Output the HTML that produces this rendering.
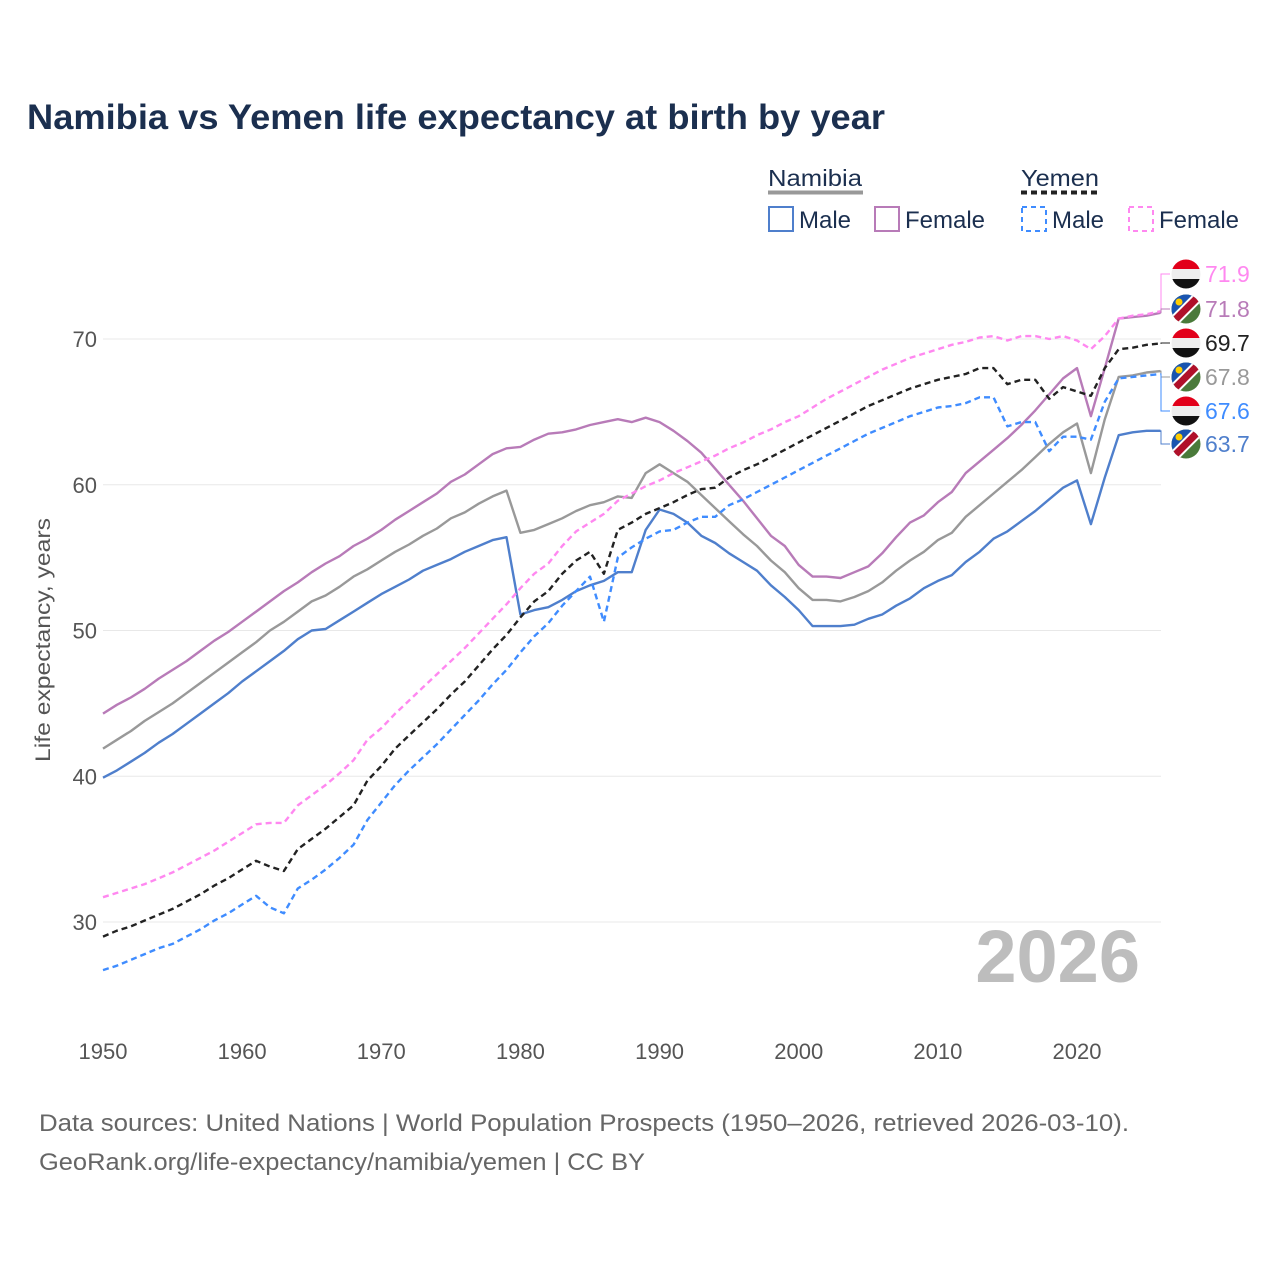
<!DOCTYPE html>
<html><head><meta charset="utf-8">
<style>
body{margin:0;background:#fff;}
svg text{font-family:"Liberation Sans",sans-serif;}
</style></head>
<body>
<svg id="chart" width="1280" height="1280" viewBox="0 0 1280 1280" xmlns="http://www.w3.org/2000/svg">
<rect width="1280" height="1280" fill="#fff"/>
<text x="27" y="129" font-size="35" font-weight="bold" fill="#1b2f4f" textLength="858" lengthAdjust="spacingAndGlyphs">Namibia vs Yemen life expectancy at birth by year</text>
<g id="legend">
 <text x="768" y="186" font-size="23" fill="#1b2f4f" textLength="94" lengthAdjust="spacingAndGlyphs">Namibia</text>
 <line x1="768" y1="192.5" x2="863" y2="192.5" stroke="#999" stroke-width="4"/>
 <text x="1021" y="186" font-size="23" fill="#1b2f4f" textLength="78" lengthAdjust="spacingAndGlyphs">Yemen</text>
 <line x1="1021" y1="192.5" x2="1098" y2="192.5" stroke="#222" stroke-width="4" stroke-dasharray="6,4"/>
 <g><rect x="769" y="207" width="24" height="24" fill="none" stroke="#4f7fcc" stroke-width="2"/><text x="799" y="228" font-size="24" fill="#1b2f4f">Male</text></g>
 <g><rect x="875" y="207" width="24" height="24" fill="none" stroke="#b87bb8" stroke-width="2"/><text x="905" y="228" font-size="24" fill="#1b2f4f">Female</text></g>
 <g><rect x="1022" y="207" width="24" height="24" fill="none" stroke="#3f8cff" stroke-width="2" stroke-dasharray="5,4"/><text x="1052" y="228" font-size="24" fill="#1b2f4f">Male</text></g>
 <g><rect x="1129" y="207" width="24" height="24" fill="none" stroke="#ff88f0" stroke-width="2" stroke-dasharray="5,4"/><text x="1159" y="228" font-size="24" fill="#1b2f4f">Female</text></g>
</g>
<text transform="translate(50,640) rotate(-90)" text-anchor="middle" font-size="21" fill="#555" textLength="244" lengthAdjust="spacingAndGlyphs">Life expectancy, years</text>
<text x="1140" y="982" text-anchor="end" font-size="74" font-weight="bold" fill="#bdbdbd">2026</text>
<g id="grid"></g>
<g id="series"></g>
<g id="labels"></g>
<text x="39" y="1131" font-size="24" fill="#666" textLength="1090" lengthAdjust="spacingAndGlyphs">Data sources: United Nations | World Population Prospects (1950–2026, retrieved 2026-03-10).</text>
<text x="39" y="1170" font-size="24" fill="#666" textLength="606" lengthAdjust="spacingAndGlyphs">GeoRank.org/life-expectancy/namibia/yemen | CC BY</text>
</svg>
<script>
const startYear = 1950;
const xTicks = [1950,1960,1970,1980,1990,2000,2010,2020];
const yTicks = [30,40,50,60,70];
const namibiaFemale = [44.3,44.9,45.4,46.0,46.7,47.3,47.9,48.6,49.3,49.9,50.6,51.3,52.0,52.7,53.3,54.0,54.6,55.1,55.8,56.3,56.9,57.6,58.2,58.8,59.4,60.2,60.7,61.4,62.1,62.5,62.6,63.1,63.5,63.6,63.8,64.1,64.3,64.5,64.3,64.6,64.3,63.7,63.0,62.2,61.1,60.0,58.9,57.7,56.5,55.8,54.5,53.7,53.7,53.6,54.0,54.4,55.3,56.4,57.4,57.9,58.8,59.5,60.8,61.6,62.4,63.2,64.1,65.1,66.2,67.3,68.0,64.7,68.0,71.4,71.5,71.6,71.8];
const namibiaTotal = [41.9,42.5,43.1,43.8,44.4,45.0,45.7,46.4,47.1,47.8,48.5,49.2,50.0,50.6,51.3,52.0,52.4,53.0,53.7,54.2,54.8,55.4,55.9,56.5,57.0,57.7,58.1,58.7,59.2,59.6,56.7,56.9,57.3,57.7,58.2,58.6,58.8,59.2,59.1,60.8,61.4,60.8,60.2,59.3,58.4,57.5,56.6,55.8,54.8,54.0,52.9,52.1,52.1,52.0,52.3,52.7,53.3,54.1,54.8,55.4,56.2,56.7,57.8,58.6,59.4,60.2,61.0,61.9,62.8,63.6,64.2,60.8,64.5,67.4,67.5,67.7,67.8];
const namibiaMale = [39.9,40.4,41.0,41.6,42.3,42.9,43.6,44.3,45.0,45.7,46.5,47.2,47.9,48.6,49.4,50.0,50.1,50.7,51.3,51.9,52.5,53.0,53.5,54.1,54.5,54.9,55.4,55.8,56.2,56.4,51.1,51.4,51.6,52.1,52.7,53.1,53.4,54.0,54.0,56.9,58.3,58.0,57.4,56.5,56.0,55.3,54.7,54.1,53.1,52.3,51.4,50.3,50.3,50.3,50.4,50.8,51.1,51.7,52.2,52.9,53.4,53.8,54.7,55.4,56.3,56.8,57.5,58.2,59.0,59.8,60.3,57.3,60.5,63.4,63.6,63.7,63.7];
const yemenTotal = [29.0,29.4,29.7,30.1,30.5,30.9,31.4,31.9,32.5,33.0,33.6,34.2,33.8,33.5,35.0,35.7,36.4,37.2,38.0,39.7,40.7,41.9,42.8,43.7,44.6,45.6,46.5,47.6,48.7,49.7,50.9,52.0,52.7,53.9,54.8,55.4,53.9,56.9,57.4,58.0,58.4,58.8,59.3,59.7,59.8,60.5,61.0,61.4,61.9,62.4,62.9,63.4,63.9,64.4,64.9,65.4,65.8,66.2,66.6,66.9,67.2,67.4,67.6,68.0,68.0,66.9,67.2,67.2,65.9,66.7,66.4,66.1,68.0,69.3,69.4,69.6,69.7];
const yemenMale = [26.7,27.0,27.4,27.8,28.2,28.5,29.0,29.5,30.1,30.6,31.2,31.8,31.0,30.6,32.3,32.9,33.6,34.4,35.3,37.0,38.2,39.4,40.4,41.3,42.2,43.2,44.2,45.2,46.3,47.3,48.5,49.6,50.5,51.7,52.7,53.7,50.6,55.0,55.7,56.3,56.8,56.9,57.4,57.8,57.8,58.6,59.0,59.5,60.0,60.5,61.0,61.5,62.0,62.5,63.0,63.5,63.9,64.3,64.7,65.0,65.3,65.4,65.6,66.0,66.0,64.0,64.3,64.3,62.3,63.3,63.3,63.1,65.7,67.3,67.4,67.5,67.6];
const yemenFemale = [31.7,32.0,32.3,32.6,33.0,33.4,33.9,34.4,34.9,35.5,36.1,36.7,36.8,36.8,38.0,38.7,39.4,40.2,41.1,42.5,43.3,44.3,45.2,46.1,47.0,47.9,48.8,49.8,50.8,51.8,52.9,53.9,54.6,55.8,56.8,57.4,58.0,58.9,59.4,59.9,60.3,60.8,61.2,61.6,62.0,62.5,62.9,63.4,63.8,64.3,64.7,65.3,65.9,66.4,66.9,67.4,67.9,68.3,68.7,69.0,69.3,69.6,69.8,70.1,70.2,69.9,70.2,70.2,70.0,70.2,69.9,69.3,70.2,71.4,71.6,71.7,71.9];

const NS='http://www.w3.org/2000/svg';
function xs(year){return 103 + (year-1950)*(1077-103)/70;}
function ys(v){return 339 + (70-v)*(922-339)/40;}
function mk(tag,attrs,parent){const e=document.createElementNS(NS,tag);for(const k in attrs)e.setAttribute(k,attrs[k]);parent.appendChild(e);return e;}

const grid=document.getElementById('grid');
yTicks.forEach(t=>{
  const l=mk('line',{x1:103,x2:1161,y1:ys(t),y2:ys(t),stroke:'#e8e8e8','stroke-width':1},grid);
  
  
  const tx=mk('text',{x:97,y:ys(t)+8,'text-anchor':'end','font-size':22,fill:'#555'},grid);
  tx.textContent=t;
  
  
});
xTicks.forEach(t=>{
  const tx=mk('text',{x:xs(t),y:1059,'text-anchor':'middle','font-size':22,fill:'#555'},grid);
  tx.textContent=t;
  
  
});

const seriesG=document.getElementById('series');
const defs=[
 ['namibia-total',namibiaTotal,'#999',''],
 ['namibia-female',namibiaFemale,'#b87bb8',''],
 ['namibia-male',namibiaMale,'#4f7fcc',''],
 ['yemen-female',yemenFemale,'#ff88f0','6,4'],
 ['yemen-male',yemenMale,'#3f8cff','6,4'],
 ['yemen-total',yemenTotal,'#222','6,4']
];
defs.forEach(([name,arr,col,dash])=>{
  const d=arr.map((v,i)=>(i?'L':'M')+xs(startYear+i).toFixed(1)+','+ys(v).toFixed(1)).join(' ');
  const p=mk('path',{d:d,fill:'none',stroke:col,'stroke-width':2.4,'stroke-linejoin':'round'},seriesG);
  if(dash)p.setAttribute('stroke-dasharray',dash);
  
  
});

const labelsG=document.getElementById('labels');
const endLabels=[
 ['yemen-female',yemenFemale,'#ff88f0','yemen',274],
 ['namibia-female',namibiaFemale,'#b87bb8','namibia',309],
 ['yemen-total',yemenTotal,'#222','yemen',343],
 ['namibia-total',namibiaTotal,'#999','namibia',377],
 ['yemen-male',yemenMale,'#3f8cff','yemen',411],
 ['namibia-male',namibiaMale,'#4f7fcc','namibia',444]
];
let cid=0;
endLabels.forEach(([name,arr,col,flag,ly])=>{
  const v=arr[arr.length-1];
  const ex=xs(startYear+arr.length-1), ey=ys(v);
  const c=mk('path',{d:`M${ex},${ey} L1161,${ey} L1161,${ly} L1170,${ly}`,fill:'none',stroke:col,'stroke-width':1},labelsG);
  
  
  const g=mk('g',{},labelsG);
  
  
  const id='clip'+(cid++);
  const cp=mk('clipPath',{id:id},g);
  mk('circle',{cx:1186,cy:ly,r:14.5},cp);
  const fg=mk('g',{'clip-path':`url(#${id})`},g);
  if(flag==='yemen'){
    mk('rect',{x:1170,y:ly-16,width:32,height:11,fill:'#e2001a'},fg);
    mk('rect',{x:1170,y:ly-5,width:32,height:10,fill:'#eee'},fg);
    mk('rect',{x:1170,y:ly+5,width:32,height:12,fill:'#111'},fg);
  } else {
    mk('rect',{x:1170,y:ly-16,width:32,height:32,fill:'#4a7a3a'},fg);
    mk('polygon',{points:`1170,${ly-16} 1202,${ly-16} 1170,${ly+16}`,fill:'#1a55b0'},fg);
    mk('line',{x1:1168,y1:ly+18,x2:1204,y2:ly-18,stroke:'#fff','stroke-width':11},fg);
    mk('line',{x1:1168,y1:ly+18,x2:1204,y2:ly-18,stroke:'#b0102a','stroke-width':7},fg);
    mk('circle',{cx:1179,cy:ly-7,r:3.5,fill:'#ffce00'},fg);
  }
  const t=mk('text',{x:1205,y:ly+8,'font-size':23,fill:col},labelsG);
  t.textContent=v.toFixed(1);
  
  
});
</script>
</body></html>
